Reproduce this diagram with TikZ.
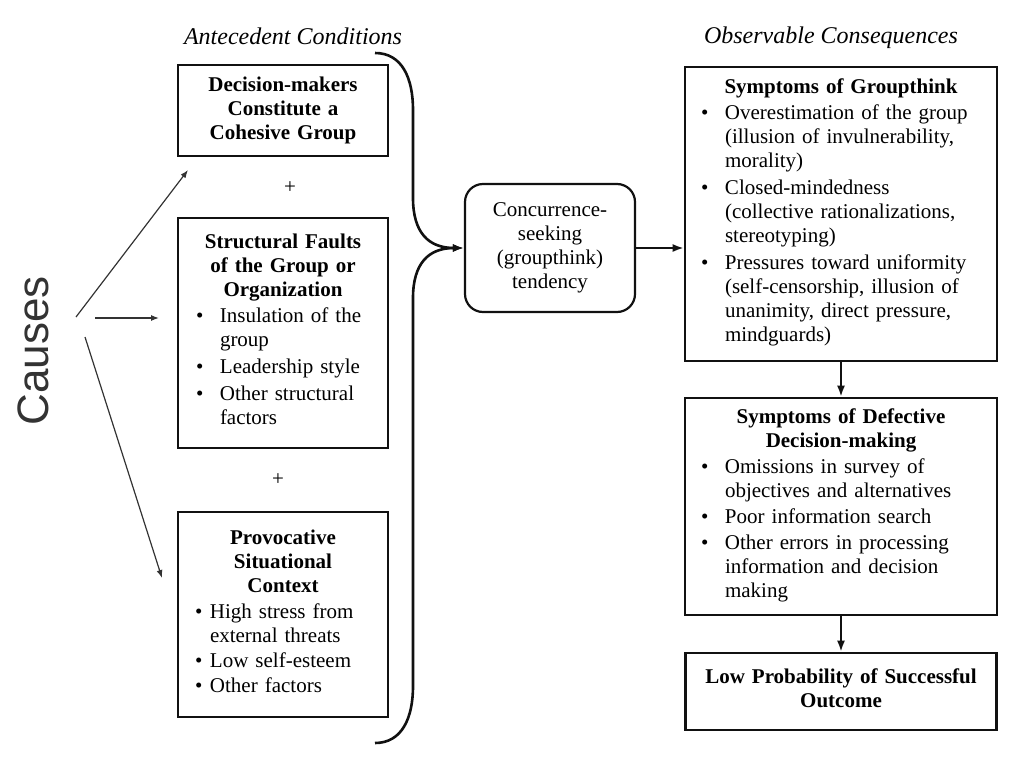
\documentclass[tikz,border=0pt]{standalone}
\usepackage{fontspec}
\setmainfont{Liberation Serif}
\newfontfamily\causefont{Liberation Sans}
\usetikzlibrary{arrows.meta,positioning,calc}
\definecolor{InkBlack}{HTML}{111111}
\definecolor{CauseGrey}{HTML}{333333}

% bullet list: left offset, bullet column width, rows
\newcommand{\gtlist}[3]{\noindent\begin{tabular}[t]{@{\hspace{#1}}p{#2}@{}l@{}}#3\end{tabular}}

\begin{document}
\begin{tikzpicture}[
    x=1pt, y=-1pt,
    font=\fontsize{21}{24}\selectfont,
    box/.style={draw=InkBlack, line width=2.6pt, inner sep=0pt, align=center},
    listbox/.style={box, align=left},
    seekbox/.style={draw=InkBlack, line width=2.2pt, rounded corners=18pt, minimum width=170pt, minimum height=128pt, align=center},
    heading/.style={font=\fontsize{24}{28}\selectfont\itshape},
    arrow/.style={-{Latex[length=11pt,width=8pt]}, line width=2pt, draw=InkBlack},
    brace/.style={-{Latex[length=11pt,width=8pt]}, line width=2.6pt, draw=InkBlack},
    causearrow/.style={-{Latex[length=8pt,width=6pt]}, line width=1.2pt, draw=CauseGrey}
  ]
    \useasboundingbox (0,0) rectangle (1024,768);

    % column headings
    \node[heading] (antecedent) at (293,36) {Antecedent Conditions};
    \node[heading] (observable) at (831,38) {Observable Consequences};

    % antecedent conditions
    \node[box, text width=210pt, minimum height=91pt] (cohesive) at (283,110.5) {\bfseries Decision-makers\\Constitute a\\Cohesive Group};
    \node (plusA) at (290,188) {+};
    \node[listbox, text width=210pt, minimum height=230pt] (faults) at (283,333) {{\centering\bfseries Structural Faults\par of the Group or\par Organization\par}\vspace{2pt}
      \gtlist{18pt}{24pt}{\textbullet & Insulation of the\\ & group\\[3pt] \textbullet & Leadership style\\[3pt] \textbullet & Other structural\\ & factors}};
    \node (plusB) at (278,480) {+};
    \node[listbox, text width=210pt, minimum height=205pt] (context) at (283,614.5) {{\centering\bfseries Provocative\par Situational\par Context\par}\vspace{2pt}
      \gtlist{17pt}{15pt}{\textbullet & High stress from\\ & external threats\\[1pt] \textbullet & Low self-esteem\\[1pt] \textbullet & Other factors}};

    % central tendency
    \node[seekbox] (seek) at (550,248) {Concurrence-\\seeking\\(groupthink)\\tendency};

    % observable consequences
    \node[listbox, text width=312pt, minimum height=294pt] (groupthink) at (841,214) {{\centering\bfseries Symptoms of Groupthink\par}\vspace{2pt}
      \gtlist{16pt}{24pt}{\textbullet & Overestimation of the group\\ & (illusion of invulnerability,\\ & morality)\\[3pt] \textbullet & Closed-mindedness\\ & (collective rationalizations,\\ & stereotyping)\\[3pt] \textbullet & Pressures toward uniformity\\ & (self-censorship, illusion of\\ & unanimity, direct pressure,\\ & mindguards)}};
    \node[listbox, text width=312pt, minimum height=217pt] (defective) at (841,506.5) {{\centering\bfseries Symptoms of Defective\par Decision-making\par}\vspace{2pt}
      \gtlist{16pt}{24pt}{\textbullet & Omissions in survey of\\ & objectives and alternatives\\[2pt] \textbullet & Poor information search\\[2pt] \textbullet & Other errors in processing\\ & information and decision\\ & making}};
    \node[box, text width=311pt, minimum height=77pt] (outcome) at (841,691.5) {\bfseries Low Probability of Successful\\Outcome\strut};

    % causes
    \node[font=\causefont\fontsize{44}{50}\selectfont, text=CauseGrey, rotate=90] (causes) at (33,351) {Causes};
    \coordinate (cTopStart) at (76,317);
    \coordinate (cTopEnd) at (188,170);
    \coordinate (cMidStart) at (95,318);
    \coordinate (cMidEnd) at (159,318);
    \coordinate (cLowStart) at (85,337);
    \coordinate (cLowEnd) at (162,578);
    \draw[causearrow] (cTopStart) -- (cTopEnd);
    \draw[causearrow] (cMidStart) -- (cMidEnd);
    \draw[causearrow] (cLowStart) -- (cLowEnd);

    % brace gathering the conditions
    \coordinate (braceTop) at (375,53);
    \coordinate (braceBot) at (375,743);
    \draw[brace] (braceTop) .. controls (402,53) and (413,78) .. (413,110) -- (413,198) .. controls (413,232) and (428,248) .. (seek.west);
    \draw[brace] (braceBot) .. controls (402,743) and (413,718) .. (413,686) -- (413,298) .. controls (413,264) and (428,248) .. (seek.west);

    % flow of consequences
    \draw[arrow] (seek.east) -- (seek.east -| groupthink.west);
    \draw[arrow] (groupthink) -- (defective);
    \draw[arrow] (defective) -- (outcome);
  \end{tikzpicture}
\end{document}
